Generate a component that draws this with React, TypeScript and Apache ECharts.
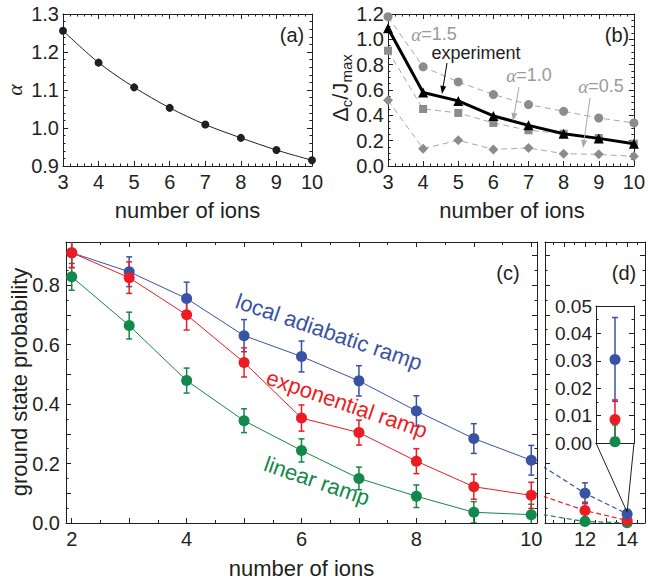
import React, { useEffect, useRef } from 'react';
import * as echarts from 'echarts';

const FONT = "'Liberation Sans', Arial, Helvetica, sans-serif";
const SERIF = "'Liberation Serif', 'Times New Roman', serif";
const INK = '#231f20';
const GRAY_TXT = '#9a9a9a';
const GRAY_MK = '#8c8c8c';
const GRAY_LN = '#a8a8a8';
const BLUE = '#3953a4';
const RED = '#ec1c24';
const GREEN = '#12884a';

// ---- panel (a) ----
const ionsA = [3, 4, 5, 6, 7, 8, 9, 10];
const alphaOpt = [1.256, 1.172, 1.107, 1.053, 1.009, 0.974, 0.942, 0.915];

// ---- panel (b) ----
const ionsB = [3, 4, 5, 6, 7, 8, 9, 10];
const gapExperiment = [1.087, 0.58, 0.514, 0.395, 0.321, 0.255, 0.218, 0.176];
const gapAlpha15 = [1.179, 0.783, 0.664, 0.564, 0.485, 0.432, 0.379, 0.34];
const gapAlpha10 = [0.91, 0.45, 0.419, 0.34, 0.282, 0.255, 0.221, 0.176];
const gapAlpha05 = [0.519, 0.137, 0.203, 0.131, 0.142, 0.097, 0.092, 0.076];

// ---- panel (c) ----
const ionsC = [2, 3, 4, 5, 6, 7, 8, 9, 10];
const probLocal = [0.909, 0.845, 0.755, 0.63, 0.56, 0.478, 0.377, 0.284, 0.211];
const errLocal = [0.05, 0.05, 0.055, 0.054, 0.052, 0.051, 0.051, 0.05, 0.05];
const probExp = [0.909, 0.825, 0.7, 0.54, 0.353, 0.304, 0.208, 0.122, 0.093];
const errExp = [0.05, 0.053, 0.051, 0.049, 0.044, 0.042, 0.042, 0.042, 0.044];
const probLin = [0.828, 0.664, 0.479, 0.344, 0.244, 0.15, 0.09, 0.036, 0.028];
const errLin = [0.045, 0.045, 0.042, 0.04, 0.039, 0.038, 0.038, 0.036, 0.035];

// ---- panel (d) ----
const ionsD = [12, 14];
const probLocalD = [0.1, 0.0305];
const errLocalD = [0.035, 0.0153];
const probExpD = [0.042, 0.0086];
const errExpD = [0.028, 0.0071];
const probLinD = [0.005, 0.0005];
const errLinD = [0.015, 0.0061];
const trendIons = [10, 12, 14];
const trendLocal = [0.19, 0.1, 0.0305];
const trendExp = [0.09, 0.042, 0.0086];
const trendLin = [0.028, 0.005, 0.0005];

// tick values
const ticksCMajor = [2, 3, 4, 5, 6, 7, 8, 9, 10];
const ticksCMinor = [2.5, 3.5, 4.5, 5.5, 6.5, 7.5, 8.5, 9.5];
const labelsC = [2, 4, 6, 8, 10];
const ticksDMajor = [11, 12, 13, 14];
const ticksDMinor = [10.5, 11.5, 12.5, 13.5, 14.5];
const labelsD = [12, 14];

// layout
const GA = { left: 63, top: 14, width: 249, height: 152 };
const GB = { left: 388, top: 14, width: 248, height: 152 };
const GC = { left: 66, top: 242, width: 471, height: 281 };
const GD = { left: 545, top: 242, width: 100, height: 281 };
const GI = { left: 596, top: 306, width: 38, height: 137 };

type AxOpt = {
  grid: number; pos: string; min: number; max: number; interval?: number;
  labels?: boolean; fmt?: (v: number) => string; minorSplit?: number;
  tickLen?: number; tickValues?: number[]; labelValues?: number[];
  showLine?: boolean; fontSize?: number; margin?: number; showTicks?: boolean;
};

function makeAxis(o: AxOpt) {
  const ax: any = {
    type: 'value', gridIndex: o.grid, position: o.pos, min: o.min, max: o.max,
    axisLine: { show: o.showLine !== false, onZero: false, lineStyle: { color: INK, width: 1 } },
    axisTick: { show: o.showTicks !== false, inside: true, length: o.tickLen ?? 5, lineStyle: { color: INK, width: 1 } },
    axisLabel: { show: !!o.labels, color: INK, fontFamily: FONT, fontSize: o.fontSize ?? 20, margin: o.margin ?? 5 },
    splitLine: { show: false },
    minorTick: { show: !!o.minorSplit, splitNumber: o.minorSplit || 5, length: 2.5, lineStyle: { color: INK, width: 1 } },
    minorSplitLine: { show: false },
  };
  if (o.interval != null) ax.interval = o.interval;
  if (o.fmt) ax.axisLabel.formatter = o.fmt;
  if (o.tickValues) ax.axisTick.customValues = o.tickValues;
  if (o.labelValues) ax.axisLabel.customValues = o.labelValues;
  return ax;
}

const f1 = (v: number) => v.toFixed(1);
const fInt = (v: number) => String(Math.round(v));
const fEven = (v: number) => (Math.round(v * 10) % 2 === 0 ? v.toFixed(1) : '');
const f2 = (v: number) => v.toFixed(2);

const xAxes = [
  makeAxis({ grid: 0, pos: 'bottom', min: 3, max: 10, interval: 1, labels: true, fmt: fInt, minorSplit: 5, margin: 6 }),
  makeAxis({ grid: 0, pos: 'top', min: 3, max: 10, interval: 1, minorSplit: 5 }),
  makeAxis({ grid: 1, pos: 'bottom', min: 3, max: 10, interval: 1, labels: true, fmt: fInt, minorSplit: 5, margin: 6 }),
  makeAxis({ grid: 1, pos: 'top', min: 3, max: 10, interval: 1, minorSplit: 5 }),
  makeAxis({ grid: 2, pos: 'bottom', min: 1.9, max: 10.1, labels: true, fmt: fInt, tickValues: ticksCMajor, labelValues: labelsC, margin: 6 }),
  makeAxis({ grid: 2, pos: 'bottom', min: 1.9, max: 10.1, tickValues: ticksCMinor, tickLen: 3, showLine: false }),
  makeAxis({ grid: 2, pos: 'top', min: 1.9, max: 10.1, tickValues: ticksCMajor }),
  makeAxis({ grid: 2, pos: 'top', min: 1.9, max: 10.1, tickValues: ticksCMinor, tickLen: 3, showLine: false }),
  makeAxis({ grid: 3, pos: 'bottom', min: 10.1, max: 14.85, labels: true, fmt: fInt, tickValues: ticksDMajor, labelValues: labelsD, margin: 6 }),
  makeAxis({ grid: 3, pos: 'bottom', min: 10.1, max: 14.85, tickValues: ticksDMinor, tickLen: 3, showLine: false }),
  makeAxis({ grid: 3, pos: 'top', min: 10.1, max: 14.85, tickValues: ticksDMajor }),
  makeAxis({ grid: 3, pos: 'top', min: 10.1, max: 14.85, tickValues: ticksDMinor, tickLen: 3, showLine: false }),
  makeAxis({ grid: 4, pos: 'bottom', min: 13.5, max: 14.5, showTicks: false }),
  makeAxis({ grid: 4, pos: 'top', min: 13.5, max: 14.5, showTicks: false }),
];

const yAxes = [
  makeAxis({ grid: 0, pos: 'left', min: 0.9, max: 1.3, interval: 0.1, labels: true, fmt: f1, minorSplit: 5, margin: 4 }),
  makeAxis({ grid: 0, pos: 'right', min: 0.9, max: 1.3, interval: 0.1, minorSplit: 5 }),
  makeAxis({ grid: 1, pos: 'left', min: 0, max: 1.2, interval: 0.2, labels: true, fmt: f1, minorSplit: 4, margin: 4 }),
  makeAxis({ grid: 1, pos: 'right', min: 0, max: 1.2, interval: 0.2, minorSplit: 4 }),
  makeAxis({ grid: 2, pos: 'left', min: 0, max: 0.945, interval: 0.1, labels: true, fmt: fEven, minorSplit: 2, margin: 6 }),
  makeAxis({ grid: 2, pos: 'right', min: 0, max: 0.945, interval: 0.1, minorSplit: 2 }),
  makeAxis({ grid: 3, pos: 'left', min: 0, max: 0.945, interval: 0.1, minorSplit: 2 }),
  makeAxis({ grid: 3, pos: 'right', min: 0, max: 0.945, interval: 0.1, minorSplit: 2 }),
  makeAxis({ grid: 4, pos: 'left', min: 0, max: 0.05, interval: 0.01, labels: true, fmt: f2, minorSplit: 2, fontSize: 19, margin: 4 }),
  makeAxis({ grid: 4, pos: 'right', min: 0, max: 0.05, interval: 0.01, minorSplit: 2 }),
];

const zip = (xs: number[], ys: number[]) => xs.map((x, i) => [x, ys[i]]);
const zip3 = (xs: number[], ys: number[], es: number[]) => xs.map((x, i) => [x, ys[i], es[i]]);

function errRender(params: any, api: any) {
  const x = api.value(0), y = api.value(1), e = api.value(2);
  const top = api.coord([x, y + e]);
  const bot = api.coord([x, y - e]);
  const w = 3;
  const style = { stroke: api.visual('color'), lineWidth: 1.5 };
  return {
    type: 'group',
    children: [
      { type: 'line', shape: { x1: top[0], y1: top[1], x2: bot[0], y2: bot[1] }, style },
      { type: 'line', shape: { x1: top[0] - w, y1: top[1], x2: top[0] + w, y2: top[1] }, style },
      { type: 'line', shape: { x1: bot[0] - w, y1: bot[1], x2: bot[0] + w, y2: bot[1] }, style },
    ],
  };
}

function errSeries(xi: number, yi: number, color: string, xs: number[], ys: number[], es: number[]) {
  return {
    type: 'custom', xAxisIndex: xi, yAxisIndex: yi, clip: true, renderItem: errRender,
    itemStyle: { color }, encode: { x: 0, y: 1 }, data: zip3(xs, ys, es), z: 2,
  };
}
function ptLine(xi: number, yi: number, color: string, xs: number[], ys: number[]) {
  return {
    type: 'line', xAxisIndex: xi, yAxisIndex: yi, data: zip(xs, ys), symbol: 'circle', symbolSize: 11,
    lineStyle: { color, width: 1 }, itemStyle: { color }, z: 3,
  };
}
function ptScatter(xi: number, yi: number, color: string, xs: number[], ys: number[]) {
  return {
    type: 'scatter', xAxisIndex: xi, yAxisIndex: yi, data: zip(xs, ys), symbol: 'circle', symbolSize: 11,
    itemStyle: { color, opacity: 1 }, z: 3,
  };
}
function trend(color: string, ys: number[]) {
  return {
    type: 'line', xAxisIndex: 8, yAxisIndex: 6, data: zip(trendIons, ys), symbol: 'none', clip: true,
    lineStyle: { color, width: 1.2, type: [5, 3] }, z: 1,
  };
}
function bLine(ys: number[], symbol: string, size: number, mk: string, ln: string, width: number, dashed: boolean) {
  return {
    type: 'line', xAxisIndex: 2, yAxisIndex: 2, data: zip(ionsB, ys), symbol, symbolSize: size,
    itemStyle: { color: mk }, lineStyle: { color: ln, width, type: dashed ? [6, 4] : 'solid' }, z: dashed ? 2 : 3,
  };
}

const series: any[] = [
  {
    type: 'line', xAxisIndex: 0, yAxisIndex: 0, data: zip(ionsA, alphaOpt), smooth: 0.3,
    symbol: 'circle', symbolSize: 8, itemStyle: { color: INK }, lineStyle: { color: INK, width: 1 },
  },
  bLine(gapAlpha15, 'circle', 9, GRAY_MK, GRAY_LN, 1, true),
  bLine(gapAlpha10, 'rect', 8, GRAY_MK, GRAY_LN, 1, true),
  bLine(gapAlpha05, 'diamond', 10, GRAY_MK, GRAY_LN, 1, true),
  bLine(gapExperiment, 'triangle', 10, '#000', '#000', 3, false),
  errSeries(4, 4, GREEN, ionsC, probLin, errLin),
  ptLine(4, 4, GREEN, ionsC, probLin),
  errSeries(4, 4, BLUE, ionsC, probLocal, errLocal),
  ptLine(4, 4, BLUE, ionsC, probLocal),
  errSeries(4, 4, RED, ionsC, probExp, errExp),
  ptLine(4, 4, RED, ionsC, probExp),
  trend(BLUE, trendLocal),
  trend(RED, trendExp),
  trend(GREEN, trendLin),
  errSeries(8, 6, GREEN, ionsD, probLinD, errLinD),
  errSeries(8, 6, BLUE, ionsD, probLocalD, errLocalD),
  errSeries(8, 6, RED, ionsD, probExpD, errExpD),
  ptScatter(8, 6, GREEN, ionsD, probLinD),
  ptScatter(8, 6, RED, ionsD, probExpD),
  ptScatter(8, 6, BLUE, ionsD, probLocalD),
];
const D_BLUE_IDX = series.length - 1;
series.push(
  errSeries(12, 8, BLUE, [14], [probLocalD[1]], [errLocalD[1]]),
  errSeries(12, 8, RED, [14], [probExpD[1]], [errExpD[1]]),
  errSeries(12, 8, GREEN, [14], [probLinD[1]], [errLinD[1]]),
  ptScatter(12, 8, BLUE, [14], [probLocalD[1]]),
  ptScatter(12, 8, RED, [14], [probExpD[1]]),
  ptScatter(12, 8, GREEN, [14], [probLinD[1]]),
);

function txt(x: number, y: number, text: string, o: any = {}) {
  return {
    type: 'text', x, y, rotation: o.rotation || 0, z: 50,
    style: {
      text, fill: o.color || INK, fontFamily: o.fontFamily || FONT, fontSize: o.fontSize || 22,
      fontStyle: o.fontStyle || 'normal', align: 'center', verticalAlign: 'middle', rich: o.rich,
    },
  };
}
function arrow(x1: number, y1: number, x2: number, y2: number, color: string) {
  const dx = x2 - x1, dy = y2 - y1;
  const L = Math.hypot(dx, dy);
  const ux = dx / L, uy = dy / L;
  const hl = 8, hw = 3;
  const bx = x2 - ux * hl, by = y2 - uy * hl;
  return [
    { type: 'line', z: 50, shape: { x1, y1, x2: bx, y2: by }, style: { stroke: color, lineWidth: 1 } },
    { type: 'polygon', z: 50, shape: { points: [[x2, y2], [bx - uy * hw, by + ux * hw], [bx + uy * hw, by - ux * hw]] }, style: { fill: color } },
  ];
}
const alphaRich = {
  i: { fontFamily: SERIF, fontStyle: 'italic', fontSize: 19, lineHeight: 19, fill: GRAY_TXT },
  n: { fontFamily: FONT, fontSize: 18, lineHeight: 19, fill: GRAY_TXT },
};

function buildGraphics(anchor: number[]) {
  const gx0 = GI.left, gx1 = GI.left + GI.width, gy = GI.top + GI.height;
  return [
    txt(GA.left + GA.width / 2, 210, 'number of ions'),
    txt(GB.left + GB.width / 2, 210, 'number of ions'),
    txt(GC.left + GC.width / 2, 568, 'number of ions'),
    txt(19, 382, 'ground state probability', { rotation: Math.PI / 2 }),
    txt(14, 90, 'α', { rotation: Math.PI / 2, fontFamily: SERIF, fontStyle: 'italic' }),
    {
      type: 'text', x: 340, y: 88, rotation: Math.PI / 2, z: 50,
      style: {
        text: '{m|Δ}{s|c}{m|/J}{s|max}', align: 'center', verticalAlign: 'middle', fill: INK,
        rich: {
          m: { fontFamily: FONT, fontSize: 22, lineHeight: 28, fill: INK },
          s: { fontFamily: FONT, fontSize: 15, lineHeight: 15, verticalAlign: 'bottom', fill: INK },
        },
      },
    },
    txt(292, 35, '(a)', { fontSize: 20 }),
    txt(617, 35, '(b)', { fontSize: 20 }),
    txt(508, 273, '(c)', { fontSize: 20 }),
    txt(624, 273, '(d)', { fontSize: 20 }),
    txt(434, 34, '{i|α}{n|=1.5}', { rich: alphaRich, color: GRAY_TXT }),
    txt(476, 53, 'experiment', { fontSize: 18 }),
    txt(529, 75, '{i|α}{n|=1.0}', { rich: alphaRich, color: GRAY_TXT }),
    txt(601, 86, '{i|α}{n|=0.5}', { rich: alphaRich, color: GRAY_TXT }),
    ...arrow(447, 63, 442, 94, '#000'),
    ...arrow(519, 87, 513, 121, GRAY_LN),
    ...arrow(590, 98, 583, 148, GRAY_LN),
    txt(329, 332, 'local adiabatic ramp', { color: BLUE, rotation: -0.33 }),
    txt(347, 404, 'exponential ramp', { color: RED, rotation: -0.33 }),
    txt(317, 481, 'linear ramp', { color: GREEN, rotation: -0.33 }),
    { type: 'line', z: 40, shape: { x1: gx0, y1: gy, x2: anchor[0], y2: anchor[1] }, style: { stroke: INK, lineWidth: 1 } },
    { type: 'line', z: 40, shape: { x1: gx1, y1: gy, x2: anchor[0], y2: anchor[1] }, style: { stroke: INK, lineWidth: 1 } },
  ];
}

const option: any = {
  animation: false,
  backgroundColor: '#ffffff',
  grid: [GA, GB, GC, GD, GI].map((g) => ({ ...g, containLabel: false, show: false })),
  xAxis: xAxes,
  yAxis: yAxes,
  series,
};

export default function App() {
  const ref = useRef<HTMLDivElement>(null);
  useEffect(() => {
    const chart = echarts.init(ref.current!, null, { renderer: 'svg' });
    chart.setOption(option);
    const anchor = chart.convertToPixel({ seriesIndex: D_BLUE_IDX }, [14, probLocalD[1] + 0.006]) as number[];
    chart.setOption({ graphic: buildGraphics(anchor) });
    return () => chart.dispose();
  }, []);
  return <div ref={ref} style={{ position: 'fixed', left: 0, top: 0, width: 648, height: 584 }} />;
}
